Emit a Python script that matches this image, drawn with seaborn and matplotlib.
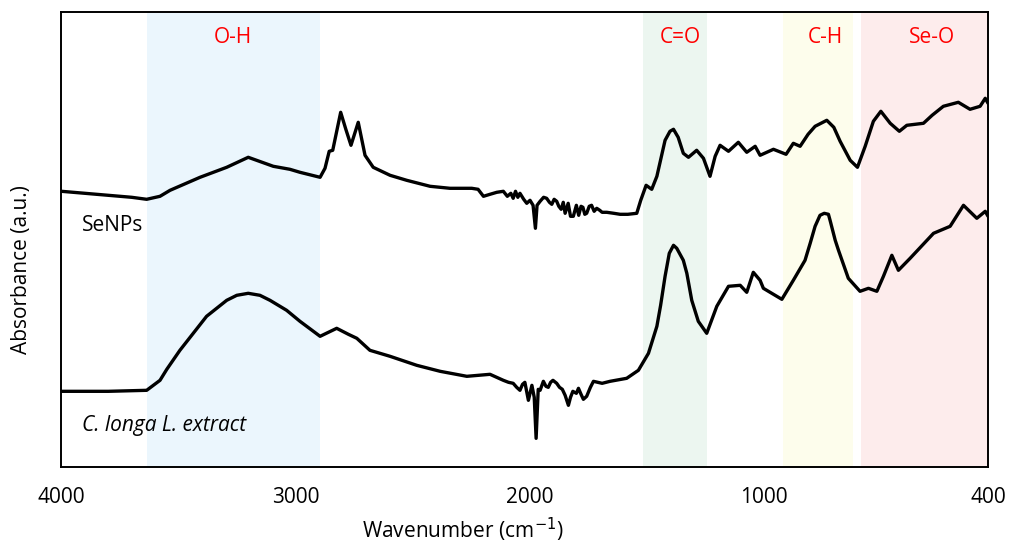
import matplotlib
matplotlib.use("Agg")
import matplotlib.pyplot as plt
import seaborn as sns
import pandas as pd

# wavenumber (cm-1) and absorbance (a.u.)
senps_wn = [4000, 3900, 3800, 3700, 3636, 3579, 3536, 3408, 3294, 3202, 3095, 3024, 2981,
            2895, 2874, 2856, 2841, 2807, 2785, 2763, 2732, 2703, 2668, 2596, 2525, 2425, 2340,
            2247, 2220, 2197, 2169, 2140, 2112, 2095, 2080, 2070, 2060, 2050, 2041, 2025, 2012,
            1998, 1985, 1975, 1968, 1955, 1940, 1927, 1915, 1905, 1895, 1884, 1875, 1865, 1856,
            1848, 1835, 1825, 1813, 1800, 1790, 1780, 1772, 1764, 1756, 1745, 1735, 1724, 1713,
            1700, 1690, 1670, 1640, 1613, 1580, 1542, 1525, 1502, 1478,
            1456, 1421, 1400, 1385, 1365, 1343, 1321, 1286, 1257, 1229, 1207, 1186, 1150, 1108,
            1072, 1036, 1015, 958, 904, 873, 844, 810, 780, 730, 700, 673, 630, 599, 566, 531,
            499, 459, 420, 388, 317, 280, 232, 168, 118, 75, 53, 41]
senps_abs = [2.76, 2.74, 2.72, 2.70, 2.68, 2.71, 2.77, 2.90, 3.00, 3.10, 3.01, 2.98, 2.95,
             2.90, 2.99, 3.16, 3.17, 3.55, 3.38, 3.22, 3.45, 3.12, 3.00, 2.92, 2.87, 2.81, 2.79,
             2.79, 2.78, 2.71, 2.73, 2.75, 2.76, 2.71, 2.74, 2.69, 2.76, 2.70, 2.74, 2.68, 2.64,
             2.67, 2.62, 2.39, 2.62, 2.66, 2.70, 2.69, 2.65, 2.63, 2.68, 2.66, 2.61, 2.58, 2.65,
             2.54, 2.64, 2.51, 2.51, 2.62, 2.52, 2.61, 2.60, 2.53, 2.54, 2.61, 2.62, 2.56, 2.59,
             2.57, 2.55, 2.55, 2.54, 2.53, 2.53, 2.54, 2.67, 2.82, 2.78,
             2.91, 3.27, 3.36, 3.38, 3.30, 3.14, 3.10, 3.17, 3.09, 2.91, 3.11, 3.22, 3.16, 3.25,
             3.15, 3.21, 3.12, 3.18, 3.13, 3.24, 3.21, 3.33, 3.41, 3.47, 3.40, 3.26, 3.07, 3.00,
             3.21, 3.46, 3.56, 3.44, 3.36, 3.42, 3.44, 3.52, 3.61, 3.65, 3.58, 3.61, 3.69, 3.64]

extract_wn = [4000, 3800, 3636, 3579, 3550, 3494, 3437, 3380, 3294, 3251, 3202, 3152, 3109,
              3038, 2981, 2895, 2824, 2774, 2738, 2682, 2596, 2482, 2382, 2268, 2169, 2112,
              2090, 2070, 2055, 2041, 2030, 2020, 2005, 1990, 1980, 1972, 1963, 1955, 1941,
              1930, 1920, 1910, 1900, 1884, 1872, 1860, 1848, 1834, 1825, 1815, 1800, 1791,
              1780, 1770, 1756, 1740, 1727, 1690, 1656, 1585, 1535, 1492, 1456, 1440, 1421,
              1403, 1385, 1371, 1343, 1328, 1307, 1279, 1243, 1200, 1150, 1100, 1072, 1044,
              1015, 1001, 922, 873, 823, 801, 780, 759, 741, 723, 716, 694, 680, 638, 588,
              552, 516, 488, 452, 424, 374, 274, 203, 146, 89, 53, 41]
extract_abs = [0.76, 0.76, 0.77, 0.87, 0.98, 1.17, 1.34, 1.51, 1.67, 1.72, 1.74, 1.72, 1.67,
               1.57, 1.46, 1.31, 1.39, 1.33, 1.29, 1.17, 1.11, 1.02, 0.96, 0.91, 0.93, 0.87,
               0.85, 0.84, 0.80, 0.77, 0.83, 0.85, 0.67, 0.82, 0.70, 0.29, 0.78, 0.77, 0.86,
               0.81, 0.80, 0.85, 0.87, 0.84, 0.80, 0.78, 0.72, 0.62, 0.70, 0.76, 0.74, 0.79,
               0.73, 0.68, 0.71, 0.80, 0.86, 0.84, 0.86, 0.89, 0.97, 1.14, 1.41, 1.62, 1.91,
               2.14, 2.22, 2.19, 2.07, 1.94, 1.67, 1.46, 1.34, 1.61, 1.81, 1.82, 1.75, 1.95,
               1.87, 1.79, 1.68, 1.87, 2.07, 2.24, 2.41, 2.52, 2.54, 2.53, 2.47, 2.27, 2.17,
               1.89, 1.76, 1.79, 1.76, 1.91, 2.12, 1.97, 2.09, 2.34, 2.41, 2.62, 2.49, 2.56, 2.51]

# shaded regions
band_names = ["O-H", "C=O", "C-H", "Se-O"]
band_start = [3636, 1514, 915, 583]
band_end = [2895, 1243, 619, 41]
band_label_wn = [3268, 1355, 738, 282]
band_colors = ["#ebf6fd", "#ecf6f0", "#fdfdec", "#fdecec"]

tick_pos = [4000, 3000, 2000, 1000, 41]
tick_text = ["4000", "3000", "2000", "1000", "400"]

sns.set_style("white")
plt.rcParams["font.family"] = ["Open Sans", "DejaVu Sans"]
plt.rcParams["text.color"] = "black"
plt.rcParams["axes.labelcolor"] = "black"
plt.rcParams["xtick.color"] = "black"

fig = plt.figure(figsize=(10.11, 5.46), dpi=100)
ax = fig.add_axes([0.0608, 0.1441, 0.9165, 0.8345])

for b0, b1, col in zip(band_start, band_end, band_colors):
    ax.axvspan(b0, b1, color=col, lw=0, zorder=0)
for name, xw in zip(band_names, band_label_wn):
    ax.text(xw, 4.30, name, color="red", fontsize=15, ha="center", va="center")

df_top = pd.DataFrame({"wn": senps_wn, "abs": senps_abs})
df_bot = pd.DataFrame({"wn": extract_wn, "abs": extract_abs})
sns.lineplot(data=df_top, x="wn", y="abs", color="black", lw=2.4, ax=ax)
sns.lineplot(data=df_bot, x="wn", y="abs", color="black", lw=2.4, ax=ax)

ax.text(3914, 2.42, "SeNPs", fontsize=15, va="center", ha="left")
ax.text(3914, 0.42, "C. longa L. extract", fontsize=15, style="italic", va="center", ha="left")

ax.set_xlim(4000, 41)
ax.set_ylim(0, 4.556)
ax.set_xticks(tick_pos)
ax.set_xticklabels(tick_text, fontsize=15)
ax.set_yticks([])
ax.tick_params(axis="x", length=0, pad=14)
for sp in ax.spines.values():
    sp.set_color("black")
    sp.set_linewidth(1.4)

ax.set_xlabel("Wavenumber (cm$^{-1}$)", fontsize=15)
ax.set_ylabel("Absorbance (a.u.)", fontsize=15)
ax.xaxis.set_label_coords(0.4333, -0.107)
ax.yaxis.set_label_coords(-0.032, 0.435)

fig.savefig("out.png", dpi=100)
